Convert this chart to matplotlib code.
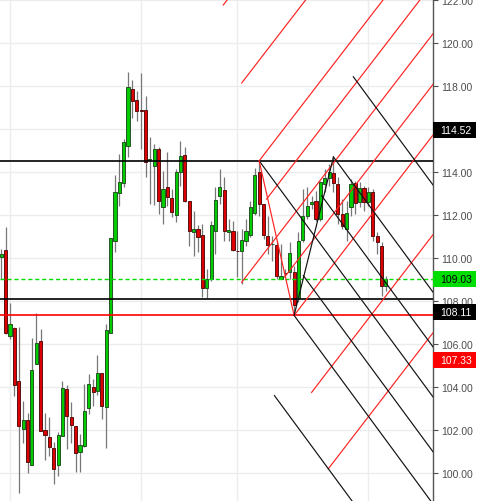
import matplotlib
matplotlib.use('Agg')
import matplotlib.pyplot as plt
import matplotlib.transforms as mtransforms
from matplotlib.patches import Rectangle

plt.rcParams['font.family'] = ['Liberation Sans', 'DejaVu Sans']

# daily candles
opens = [110.05, 110.37, 106.36, 106.75, 104.28, 102.05, 102.47, 100.37, 105.07, 106.14,
         102.00, 101.67, 101.16, 100.37, 101.72, 103.91, 102.60, 102.19, 100.98, 101.26,
         103.02, 104.00, 103.81, 104.65, 103.07, 106.51, 110.80, 113.02, 113.49, 115.21,
         117.86, 117.35, 116.90, 116.88, 114.55, 114.28, 115.07, 112.37, 113.30, 112.79,
         112.00, 114.00, 114.79, 112.65, 111.21, 111.35, 111.07, 108.59, 109.02, 111.26,
         112.88, 113.16, 111.20, 111.26, 110.34, 110.33, 110.79, 111.07, 112.09, 114.00,
         112.49, 111.02, 110.63, 110.60, 109.02, 109.31, 109.35, 109.35, 108.14, 110.84,
         111.95, 112.51, 112.65, 111.81, 113.44, 113.72, 113.95, 113.44, 112.05, 111.35,
         112.37, 113.49, 112.60, 113.26, 112.60, 113.07, 111.02, 110.56, 108.70]
highs = [110.42, 111.44, 107.90, 106.80, 106.79, 103.35, 102.80, 106.28, 107.44, 106.70,
         102.80, 102.60, 101.44, 101.91, 104.28, 104.09, 103.30, 102.19, 101.81, 104.14,
         104.60, 104.37, 105.49, 104.65, 106.93, 110.93, 113.86, 114.84, 115.53, 118.65,
         118.28, 117.77, 118.60, 117.53, 115.63, 115.30, 115.16, 114.05, 114.93, 113.21,
         114.14, 115.44, 115.16, 112.65, 112.19, 111.55, 111.58, 109.49, 111.72, 113.30,
         114.14, 113.77, 111.81, 111.72, 111.26, 111.35, 111.81, 112.65, 114.19, 114.52,
         112.51, 111.95, 111.02, 110.79, 110.65, 109.49, 110.74, 109.63, 111.21, 113.21,
         113.30, 112.88, 113.12, 113.60, 114.14, 114.37, 114.70, 113.77, 112.74, 112.65,
         113.67, 113.58, 113.53, 113.35, 113.30, 113.21, 111.21, 110.74, 109.16]
lows = [109.02, 106.47, 106.23, 103.57, 99.07, 101.40, 100.00, 100.37, 105.07, 101.95,
        100.60, 100.79, 99.49, 99.86, 101.72, 101.12, 101.40, 100.05, 100.05, 101.21,
        102.74, 103.12, 103.63, 102.51, 101.16, 106.51, 110.28, 112.42, 113.30, 114.70,
        116.51, 116.37, 115.07, 113.77, 112.51, 112.47, 112.05, 111.58, 112.42, 111.91,
        111.67, 113.35, 112.60, 110.56, 110.09, 110.30, 108.19, 108.14, 108.93, 110.19,
        112.51, 110.79, 110.79, 110.33, 109.12, 108.79, 110.56, 110.98, 112.00, 111.95,
        110.90, 110.19, 109.86, 109.02, 109.02, 109.16, 109.02, 107.33, 107.95, 110.74,
        111.81, 112.28, 111.72, 111.70, 113.07, 113.35, 113.07, 111.58, 111.35, 110.79,
        111.95, 112.05, 112.37, 112.19, 112.42, 110.79, 110.19, 108.23, 108.47]
closes = [110.19, 106.51, 106.92, 104.09, 102.19, 102.47, 100.51, 104.79, 106.05, 101.95,
          101.77, 101.21, 100.19, 101.77, 103.95, 102.65, 102.23, 100.93, 101.30, 102.88,
          104.14, 103.77, 104.65, 103.12, 106.65, 110.93, 113.08, 113.53, 115.40, 117.95,
          117.30, 116.84, 116.86, 114.47, 114.60, 115.07, 112.65, 113.21, 112.84, 112.14,
          114.00, 114.74, 112.65, 111.26, 111.35, 110.98, 108.59, 109.02, 111.53, 112.70,
          113.30, 111.26, 111.30, 110.37, 110.32, 110.84, 111.26, 112.37, 113.86, 112.51,
          111.05, 110.60, 110.67, 109.16, 109.16, 109.29, 110.23, 107.81, 110.79, 111.95,
          112.42, 112.60, 111.81, 113.53, 113.72, 114.00, 113.49, 112.05, 111.49, 112.09,
          113.44, 112.56, 113.26, 112.60, 113.07, 111.02, 110.74, 108.70, 109.03]

# drawing tool: pivots (bar index, price) and parallel rays
pivot_x = [59, 67, 76]
pivot_y = [114.52, 107.33, 114.70]
red_x = [50.8, 55.0, 59.0, 60.7, 55.0, 64.85, 67.0, 71.0, 74.8]
red_y = [121.77, 118.14, 114.52, 112.74, 108.87, 109.12, 107.33, 103.75, 100.19]
black_x = [59.0, 76.0, 80.55, 69.1, 73.3, 67.0, 62.5]
black_y = [114.52, 114.70, 118.43, 109.18, 112.90, 107.33, 103.60]
red_slope = 0.264
black_slope = -0.276

levels = [114.52, 108.11]
support = 107.33
last_price = 109.03

tag_labels = ['114.52', '109.03', '108.11', '107.33']
month_starts = [2, 32, 54, 84]
yticks = list(range(100, 123, 2))

fig = plt.figure(figsize=(4.78, 5.02), dpi=100)
ax = fig.add_axes([0, -10 / 502, 433 / 478, 512 / 502])
ax.set_xlim(-0.3, 98.78)
ax.set_ylim(98.233, 122.047)

ax.set_yticks(yticks)
ax.set_yticklabels(['%.2f' % t for t in yticks])
ax.yaxis.tick_right()
ax.tick_params(axis='y', colors='#4d4d4d', labelsize=7.5, length=3.5, width=0.8, pad=2.6)
ax.set_xticks(month_starts)
ax.tick_params(axis='x', length=0, labelbottom=False)
ax.grid(color='#ececec', linewidth=1.0)
ax.set_axisbelow(True)
for side in ['left', 'top', 'bottom']:
    ax.spines[side].set_visible(False)
ax.spines['right'].set_color('#555555')
ax.spines['right'].set_linewidth(1.0)

idx = list(range(len(opens)))
up = [c >= o for o, c in zip(opens, closes)]
ax.vlines(idx, lows, highs, color='#777777', linewidth=0.9, zorder=2)
ax.bar(idx, [c - o for o, c in zip(opens, closes)], bottom=opens, width=0.72,
       color=['#00cc00' if u else '#dd0000' for u in up],
       edgecolor=['#225522' if u else '#5a1111' for u in up], linewidth=0.7, zorder=3)

for lv in levels:
    ax.axhline(lv, color='black', linewidth=1.2, zorder=4)
ax.axhline(support, color='#ff0000', linewidth=1.2, zorder=4)
ax.axhline(last_price, color='#00dd00', linewidth=1.0, dashes=(3, 2), zorder=4)

for x0, y0 in zip(red_x, red_y):
    ax.plot([x0, x0 + 60], [y0, y0 + red_slope * 60], color='#ff2222', linewidth=0.85, zorder=5)
for x0, y0 in zip(black_x, black_y):
    ax.plot([x0, x0 + 60], [y0, y0 + black_slope * 60], color='#111111', linewidth=0.85, zorder=5)
ax.plot(pivot_x[:2], pivot_y[:2], color='#ff2222', linewidth=0.85, zorder=5)
ax.plot(pivot_x[1:], pivot_y[1:], color='#111111', linewidth=0.85, zorder=5)

# price tags on the axis
trans = mtransforms.blended_transform_factory(ax.transAxes, ax.transData)
tag_centers = [115.94, 109.01, 107.48, 105.26]
tag_bg = ['black', '#00dd00', 'black', '#ff0000']
tag_fg = ['white', 'black', 'white', 'white']
for lab, yc, bg, fg in zip(tag_labels, tag_centers, tag_bg, tag_fg):
    ax.add_patch(Rectangle((1.0, yc - 0.37), 0.0995, 0.74, transform=trans,
                           facecolor=bg, edgecolor='none', clip_on=False, zorder=10))
    ax.text(1.0 + 7.5 / 433, yc, lab, transform=trans, color=fg, fontsize=7.5,
            va='center', ha='left', clip_on=False, zorder=11)

fig.savefig('out.png', dpi=100)
